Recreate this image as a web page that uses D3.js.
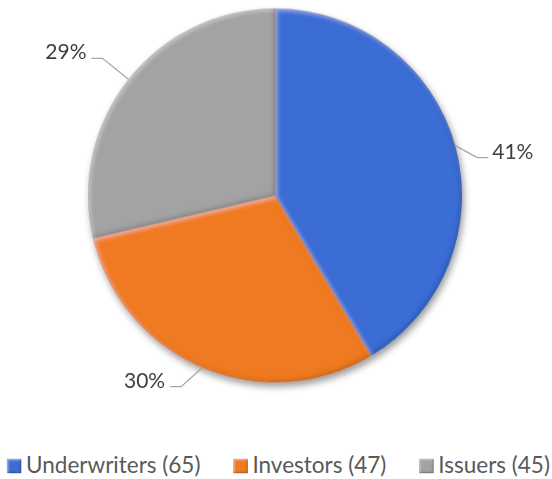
<!DOCTYPE html>
<html>
<head>
<meta charset="utf-8">
<script src="https://cdn.jsdelivr.net/npm/d3@7"></script>
<style>
  html, body { margin: 0; padding: 0; background: #ffffff; }
  svg { display: block; }
  text { font-family: Lato, "Open Sans", sans-serif; }
</style>
</head>
<body>
<svg id="chart" width="552" height="479"></svg>
<script>
// ---- data ----
const categories = ["Underwriters", "Investors", "Issuers"];
const counts = [65, 47, 45];
const percentLabels = ["41%", "30%", "29%"];

// ---- style / layout ----
const colors = ["#3A6DD5", "#EF7A20", "#A3A3A3"];
const edgeColors = ["#2A4F9E", "#B85A14", "#777777"];
const cx = 275, cy = 195.5, R = 187;
// elbow offsets of leader lines from the slice edge point (layout only)
const elbowOffsets = [[22, 12], [-21, 19], [-26, -21]];
const tailLen = 11;

const svg = d3.select("#chart");
const defs = svg.append("defs");

// drop shadow for the whole pie
const sh = defs.append("filter").attr("id", "shadow")
  .attr("x", "-20%").attr("y", "-20%").attr("width", "140%").attr("height", "140%");
sh.append("feGaussianBlur").attr("in", "SourceAlpha").attr("stdDeviation", 3.5).attr("result", "b");
sh.append("feOffset").attr("in", "b").attr("dx", 2).attr("dy", 4).attr("result", "o");
sh.append("feComponentTransfer").attr("in", "o").attr("result", "s")
  .append("feFuncA").attr("type", "linear").attr("slope", 0.4);
const shm = sh.append("feMerge");
shm.append("feMergeNode").attr("in", "s");
shm.append("feMergeNode").attr("in", "SourceGraphic");

// bevel filter for each slice: light top-left edge, dark bottom-right edge
function makeBevel(id, d, blurSd, lightOp, darkOp) {
  const f = defs.append("filter").attr("id", id)
    .attr("x", "-5%").attr("y", "-5%").attr("width", "110%").attr("height", "110%");
  f.append("feGaussianBlur").attr("in", "SourceAlpha").attr("stdDeviation", blurSd).attr("result", "blur");
  f.append("feOffset").attr("in", "blur").attr("dx", d).attr("dy", d).attr("result", "bl1");
  f.append("feComposite").attr("in", "SourceAlpha").attr("in2", "bl1").attr("operator", "out").attr("result", "e1");
  f.append("feFlood").attr("flood-color", "#ffffff").attr("flood-opacity", lightOp).attr("result", "w");
  f.append("feComposite").attr("in", "w").attr("in2", "e1").attr("operator", "in").attr("result", "lightEdge");
  f.append("feOffset").attr("in", "blur").attr("dx", -d).attr("dy", -d).attr("result", "bl2");
  f.append("feComposite").attr("in", "SourceAlpha").attr("in2", "bl2").attr("operator", "out").attr("result", "e2");
  f.append("feFlood").attr("flood-color", "#000000").attr("flood-opacity", darkOp).attr("result", "k");
  f.append("feComposite").attr("in", "k").attr("in2", "e2").attr("operator", "in").attr("result", "darkEdge");
  const m = f.append("feMerge").attr("result", "m");
  m.append("feMergeNode").attr("in", "SourceGraphic");
  m.append("feMergeNode").attr("in", "lightEdge");
  m.append("feMergeNode").attr("in", "darkEdge");
  f.append("feComposite").attr("in", "m").attr("in2", "SourceAlpha").attr("operator", "in");
}
makeBevel("bevel", 2, 2, 0.35, 0.35);
makeBevel("bevelSmall", 1.2, 1, 0.45, 0.45);

const pie = d3.pie().sort(null).value(d => d)(counts);
const arc = d3.arc().innerRadius(0).outerRadius(R);

const g = svg.append("g").attr("transform", `translate(${cx},${cy})`);
const pieG = g.append("g").attr("filter", "url(#shadow)");
pieG.selectAll("path.slice")
  .data(pie)
  .enter().append("path")
  .attr("class", "slice")
  .attr("d", arc)
  .attr("fill", (d, i) => colors[i])
  .attr("stroke", (d, i) => edgeColors[i])
  .attr("stroke-width", 0.5)
  .attr("filter", "url(#bevel)");

// leader lines and labels
pie.forEach((d, i) => {
  const a = (d.startAngle + d.endAngle) / 2;
  const px = R * Math.sin(a), py = -R * Math.cos(a);
  const ex = px + elbowOffsets[i][0], ey = py + elbowOffsets[i][1];
  const right = Math.sin(a) >= 0;
  const tx = ex + (right ? tailLen : -tailLen);
  g.append("polyline")
    .attr("points", `${px},${py} ${ex},${ey} ${tx},${ey}`)
    .attr("fill", "none")
    .attr("stroke", "#A6A6A6")
    .attr("stroke-width", 1.3);
  g.append("text")
    .attr("x", tx + (right ? 4 : -5))
    .attr("y", ey + 1)
    .attr("text-anchor", right ? "start" : "end")
    .attr("font-size", 21)
    .attr("fill", "#404040")
    .text(percentLabels[i]);
});

// legend
const legend = svg.append("g");
const items = legend.selectAll("g.item")
  .data(categories)
  .enter().append("g").attr("class", "item");
const legendBaseline = 472.5;
const sq = 14;
items.append("rect")
  .attr("width", sq).attr("height", sq)
  .attr("y", legendBaseline - sq + 0.5)
  .attr("fill", (d, i) => colors[i])
  .attr("stroke", (d, i) => edgeColors[i])
  .attr("stroke-width", 0.8)
  .attr("filter", "url(#bevelSmall)");
items.append("text")
  .attr("x", sq + 5)
  .attr("y", legendBaseline)
  .attr("font-size", 22.5)
  .attr("fill", "#595959")
  .text((d, i) => `${d} (${counts[i]})`);
const gap = 33;
let widths = [];
items.each(function () { widths.push(this.getBBox().width); });
const total = d3.sum(widths) + gap * (widths.length - 1);
let x = (10 + 547) / 2 - total / 2;
items.attr("transform", (d, i) => {
  const t = `translate(${x},0)`;
  x += widths[i] + gap;
  return t;
});
</script>
</body>
</html>
